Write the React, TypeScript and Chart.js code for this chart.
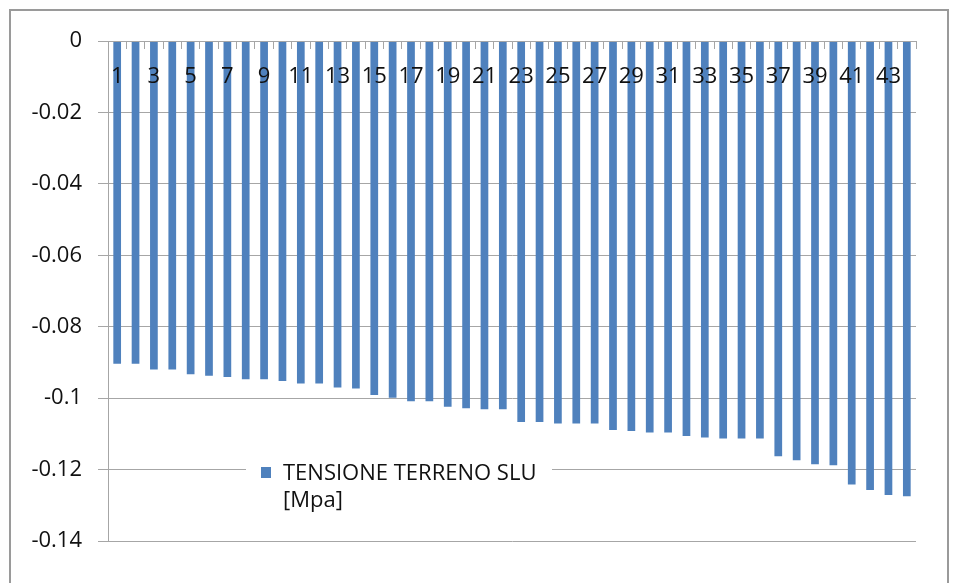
import React, { useEffect, useRef } from "react";
import { Chart, registerables } from "chart.js";

Chart.register(...registerables);

const CATEGORIES: string[] = Array.from({ length: 44 }, (_, i) => String(i + 1));

const TENSIONE_VALUES: number[] = [
  -0.0904, -0.0904, -0.092, -0.092, -0.0933, -0.0937, -0.0941, -0.0947, -0.0947, -0.0952,
  -0.0959, -0.0959, -0.097, -0.0973, -0.0991, -0.0999, -0.1009, -0.1009, -0.1024, -0.1028,
  -0.1031, -0.1031, -0.1067, -0.1067, -0.1071, -0.1071, -0.1071, -0.1089, -0.1092, -0.1096,
  -0.1096, -0.1106, -0.111, -0.1113, -0.1113, -0.1113, -0.1163, -0.1174, -0.1185, -0.1188,
  -0.1242, -0.1257, -0.1271, -0.1275,
];

const SERIES_LABEL = "TENSIONE TERRENO SLU [Mpa]";
const LEGEND_LINES: string[] = ["TENSIONE TERRENO SLU", "[Mpa]"];

const Y_MIN = -0.14;
const Y_MAX = 0;
const Y_STEP = 0.02;

const BAR_COLOR = "#4F81BD";
const GRID_COLOR = "#a6a6a6";
const FONT_FAMILY = "'Open Sans', sans-serif";
const FONT_SIZE = 22;

const legendPlugin = {
  id: "insideLegend",
  afterDraw(chart: any) {
    const ctx = chart.ctx;
    const ds = chart.data.datasets[0];
    ctx.save();
    ctx.fillStyle = "#ffffff";
    ctx.fillRect(246, 455, 306, 64);
    ctx.fillStyle = ds.backgroundColor;
    ctx.fillRect(261, 467, 10, 11);
    ctx.fillStyle = "#111111";
    ctx.font = `${FONT_SIZE}px ${FONT_FAMILY}`;
    ctx.textAlign = "left";
    ctx.textBaseline = "alphabetic";
    ctx.fillText(LEGEND_LINES[0], 283, 480);
    ctx.fillText(LEGEND_LINES[1], 283, 507);
    ctx.restore();
  },
};

export default function App() {
  const canvasRef = useRef<HTMLCanvasElement | null>(null);

  useEffect(() => {
    if (!canvasRef.current) return;
    const chart = new Chart(canvasRef.current, {
      type: "bar",
      data: {
        labels: CATEGORIES,
        datasets: [
          {
            label: SERIES_LABEL,
            data: TENSIONE_VALUES,
            backgroundColor: BAR_COLOR,
            borderWidth: 0,
            barPercentage: 0.42,
            categoryPercentage: 1,
          },
        ],
      },
      options: {
        responsive: false,
        animation: false,
        devicePixelRatio: 1,
        layout: { padding: { left: 0, top: 41, right: 44, bottom: 42 } },
        plugins: {
          legend: { display: false },
          tooltip: { enabled: false },
        },
        scales: {
          x: {
            type: "category",
            position: { y: 0 } as any,
            grid: {
              drawOnChartArea: false,
              drawTicks: true,
              tickLength: 7,
              color: GRID_COLOR,
              offset: true,
              z: 1,
            },
            border: { display: true, color: GRID_COLOR, width: 1, z: 1 },
            ticks: {
              z: 2,
              autoSkip: false,
              maxRotation: 0,
              minRotation: 0,
              padding: 16,
              color: "#111111",
              font: { family: FONT_FAMILY, size: FONT_SIZE },
              callback: (_v: any, idx: number) => (idx % 2 === 0 ? CATEGORIES[idx] : ""),
            },
          },
          y: {
            min: Y_MIN,
            max: Y_MAX,
            grid: { color: GRID_COLOR, tickLength: 10, lineWidth: 1 },
            border: { display: true, color: GRID_COLOR, width: 1 },
            ticks: {
              stepSize: Y_STEP,
              padding: 16,
              color: "#111111",
              font: { family: FONT_FAMILY, size: FONT_SIZE },
              callback: (v: any) => String(Number(Number(v).toFixed(2))),
            },
            afterFit: (scale: any) => {
              scale.width = 108;
            },
          },
        },
      },
      plugins: [legendPlugin],
    });
    return () => chart.destroy();
  }, []);

  return (
    <div
      style={{
        position: "fixed",
        left: 0,
        top: 0,
        width: 960,
        height: 583,
        overflow: "hidden",
        background: "#ffffff",
      }}
    >
      <canvas
        ref={canvasRef}
        width={960}
        height={583}
        style={{ position: "absolute", left: 0, top: 0, width: 960, height: 583 }}
      />
      <div
        style={{
          position: "absolute",
          left: 9,
          top: 9,
          width: 940,
          height: 620,
          border: "2px solid #9a9a9a",
          boxSizing: "border-box",
          pointerEvents: "none",
        }}
      />
    </div>
  );
}
